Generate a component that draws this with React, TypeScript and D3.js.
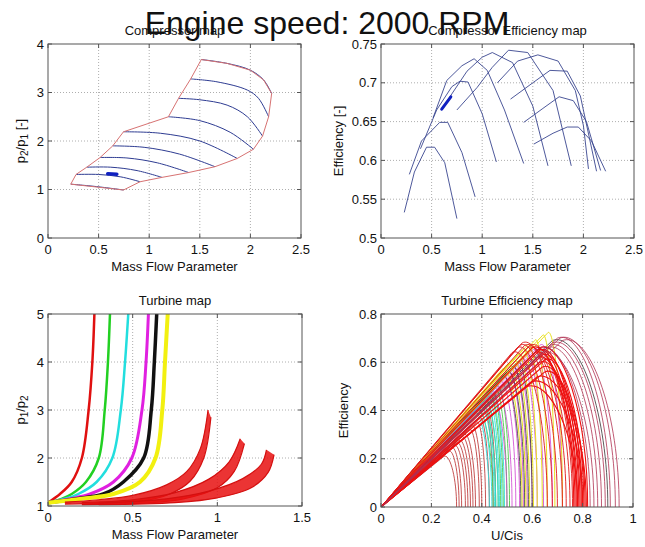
import React from "react";
import * as d3 from "d3";

const FONT = "'Liberation Sans', Arial, Helvetica, sans-serif";

// ---------------- Compressor map ----------------
const compBoundary: [number, number][] = [
  [1.515, 3.68], [1.77, 3.6], [2.0, 3.46], [2.13, 3.26], [2.21, 2.98], [2.18, 2.5], [2.12, 2.1],
  [2.03, 1.83], [1.87, 1.64], [1.65, 1.47], [1.39, 1.35], [1.126, 1.25], [0.91, 1.16], [0.746, 0.99],
  [0.225, 1.11], [0.277, 1.31], [0.383, 1.46], [0.515, 1.66], [0.64, 1.9], [0.746, 2.19],
  [1.19, 2.5], [1.29, 2.88], [1.41, 3.28], [1.515, 3.68],
];
const compSpeedLines: [number, number][][] = [
  [[0.225, 1.11], [0.48, 1.06], [0.746, 0.99]],
  [[0.277, 1.31], [0.5, 1.31], [0.72, 1.26], [0.91, 1.16]],
  [[0.383, 1.46], [0.62, 1.46], [0.88, 1.39], [1.126, 1.25]],
  [[0.515, 1.66], [0.78, 1.65], [1.08, 1.55], [1.39, 1.35]],
  [[0.64, 1.9], [0.95, 1.87], [1.3, 1.73], [1.65, 1.47]],
  [[0.746, 2.19], [1.11, 2.16], [1.5, 2.0], [1.87, 1.64]],
  [[1.19, 2.5], [1.5, 2.42], [1.8, 2.18], [2.03, 1.83]],
  [[1.29, 2.88], [1.5, 2.85], [1.77, 2.74], [1.97, 2.5], [2.12, 2.1]],
  [[1.41, 3.28], [1.67, 3.22], [1.97, 3.05], [2.08, 2.88], [2.18, 2.5]],
  [[1.515, 3.68], [1.77, 3.6], [2.0, 3.46], [2.13, 3.26], [2.21, 2.98]],
];
const compOpPoint: [number, number][] = [[0.59, 1.325], [0.68, 1.315]];

// ---------------- Compressor efficiency map ----------------
const compEffLines: [number, number][][] = [
  [[0.23, 0.533], [0.33, 0.585], [0.45, 0.617], [0.53, 0.617], [0.63, 0.597], [0.75, 0.525]],
  [[0.28, 0.582], [0.4, 0.625], [0.58, 0.649], [0.66, 0.649], [0.8, 0.61], [0.93, 0.553]],
  [[0.39, 0.615], [0.55, 0.665], [0.7, 0.695], [0.78, 0.702], [0.86, 0.701], [1.0, 0.66], [1.14, 0.598]],
  [[0.515, 0.655], [0.65, 0.703], [0.8, 0.722], [0.92, 0.731], [1.05, 0.716], [1.22, 0.665], [1.41, 0.596]],
  [[0.64, 0.674], [0.85, 0.715], [1.0, 0.733], [1.1, 0.739], [1.3, 0.726], [1.5, 0.67], [1.65, 0.593]],
  [[0.75, 0.665], [0.95, 0.694], [1.1, 0.72], [1.26, 0.742], [1.45, 0.739], [1.7, 0.69], [1.88, 0.593]],
  [[1.15, 0.7], [1.35, 0.728], [1.55, 0.736], [1.75, 0.728], [1.92, 0.69], [2.0, 0.645], [2.05, 0.589]],
  [[1.28, 0.679], [1.5, 0.7], [1.67, 0.716], [1.84, 0.715], [1.97, 0.683], [2.13, 0.586]],
  [[1.41, 0.649], [1.6, 0.667], [1.76, 0.682], [1.9, 0.677], [2.03, 0.65], [2.17, 0.587]],
  [[1.51, 0.621], [1.7, 0.635], [1.84, 0.643], [1.95, 0.643], [2.08, 0.625], [2.22, 0.586]],
];
const compEffOpPoint: [number, number][] = [[0.6, 0.666], [0.69, 0.682]];

// ---------------- Turbine map ----------------
const turbRed1: [number, number][] = [[0, 1.07], [0.071, 1.25], [0.14, 1.5], [0.2, 2.0], [0.24, 3.0], [0.262, 4.0], [0.274, 5.0]];
const turbGreen: [number, number][] = [[0, 1.07], [0.08, 1.15], [0.14, 1.25], [0.224, 1.5], [0.3, 2.0], [0.335, 3.0], [0.354, 4.0], [0.366, 5.0]];
const turbCyan: [number, number][] = [[0, 1.07], [0.1, 1.15], [0.179, 1.25], [0.287, 1.5], [0.38, 2.0], [0.43, 3.0], [0.455, 4.0], [0.474, 5.0]];
const turbMagenta: [number, number][] = [[0, 1.07], [0.13, 1.15], [0.248, 1.25], [0.386, 1.5], [0.495, 2.0], [0.555, 3.0], [0.579, 4.0], [0.593, 5.0]];
const turbBlack: [number, number][] = [[0, 1.07], [0.17, 1.15], [0.327, 1.25], [0.445, 1.5], [0.565, 2.0], [0.61, 3.0], [0.628, 4.0], [0.642, 5.0]];
const turbYellow: [number, number][] = [[0, 1.07], [0.2, 1.15], [0.386, 1.25], [0.543, 1.5], [0.635, 2.0], [0.675, 3.0], [0.691, 4.0], [0.707, 5.0]];
const turbRed2Upper: [number, number][] = [[0.1, 1.08], [0.3, 1.13], [0.5, 1.22], [0.7, 1.44], [0.82, 1.72], [0.9, 2.2], [0.945, 3.0]];
const turbRed2Lower: [number, number][] = [[0.1, 1.04], [0.35, 1.06], [0.55, 1.1], [0.72, 1.25], [0.84, 1.52], [0.92, 2.0], [0.962, 2.85]];
const turbRed3Upper: [number, number][] = [[0.2, 1.07], [0.5, 1.13], [0.75, 1.28], [0.95, 1.56], [1.07, 1.92], [1.135, 2.4]];
const turbRed3Lower: [number, number][] = [[0.2, 1.03], [0.55, 1.06], [0.8, 1.15], [1.0, 1.38], [1.1, 1.72], [1.16, 2.3]];
const turbRed4Upper: [number, number][] = [[0.3, 1.06], [0.7, 1.15], [0.95, 1.31], [1.15, 1.57], [1.26, 1.87], [1.29, 2.17]];
const turbRed4Lower: [number, number][] = [[0.3, 1.03], [0.75, 1.07], [1.0, 1.17], [1.2, 1.38], [1.3, 1.7], [1.335, 2.07]];

// ---------------- Turbine efficiency map: [kneeU/C, kneeEff, endU/C] ----------------
const effRed1: number[][] = [
  [0.25, 0.21, 0.3], [0.27, 0.23, 0.31], [0.28, 0.245, 0.32], [0.29, 0.255, 0.335], [0.3, 0.265, 0.345],
  [0.31, 0.275, 0.355], [0.32, 0.29, 0.365], [0.33, 0.3, 0.375], [0.35, 0.32, 0.39], [0.36, 0.335, 0.4],
  [0.38, 0.35, 0.415], [0.39, 0.37, 0.43], [0.41, 0.39, 0.445], [0.42, 0.4, 0.455],
];
const effGreen: number[][] = [
  [0.38, 0.4, 0.445], [0.4, 0.42, 0.455], [0.41, 0.44, 0.465], [0.43, 0.46, 0.475], [0.44, 0.47, 0.485],
  [0.45, 0.49, 0.5], [0.46, 0.5, 0.51],
];
const effCyan: number[][] = [
  [0.37, 0.39, 0.43], [0.38, 0.41, 0.44], [0.39, 0.42, 0.45], [0.4, 0.43, 0.455], [0.41, 0.45, 0.465],
  [0.42, 0.46, 0.47], [0.43, 0.47, 0.48], [0.44, 0.48, 0.49],
];
const effMagenta: number[][] = [
  [0.43, 0.48, 0.5], [0.45, 0.5, 0.52], [0.47, 0.52, 0.535], [0.48, 0.54, 0.55], [0.5, 0.56, 0.565],
  [0.52, 0.58, 0.58], [0.53, 0.59, 0.6], [0.55, 0.61, 0.62], [0.57, 0.63, 0.645], [0.6, 0.65, 0.68], [0.63, 0.67, 0.72],
];
const effBlack: number[][] = [
  [0.48, 0.54, 0.555], [0.5, 0.56, 0.57], [0.52, 0.58, 0.585], [0.54, 0.6, 0.6], [0.68, 0.69, 0.9],
];
const effYellow: number[][] = [
  [0.48, 0.57, 0.56], [0.5, 0.59, 0.575], [0.52, 0.61, 0.59], [0.54, 0.63, 0.605], [0.56, 0.65, 0.62],
  [0.58, 0.67, 0.64], [0.61, 0.69, 0.66], [0.64, 0.71, 0.69], [0.66, 0.72, 0.72],
];
const effRedA: number[][] = [
  [0.52, 0.64, 0.66], [0.54, 0.66, 0.68], [0.55, 0.67, 0.7], [0.56, 0.68, 0.72], [0.57, 0.67, 0.735],
  [0.58, 0.66, 0.75], [0.59, 0.67, 0.76],
];
const effRedB: number[][] = [
  [0.6, 0.66, 0.765], [0.61, 0.64, 0.77], [0.62, 0.65, 0.775], [0.62, 0.62, 0.78], [0.63, 0.65, 0.785],
  [0.63, 0.6, 0.79], [0.64, 0.63, 0.795], [0.64, 0.58, 0.8], [0.65, 0.61, 0.805], [0.65, 0.56, 0.81],
  [0.62, 0.54, 0.815], [0.63, 0.66, 0.82], [0.58, 0.5, 0.78], [0.6, 0.52, 0.8],
];
const effRedC: number[][] = [
  [0.63, 0.66, 0.83], [0.64, 0.64, 0.845], [0.66, 0.66, 0.86], [0.67, 0.67, 0.875], [0.68, 0.68, 0.89],
  [0.7, 0.7, 0.91], [0.71, 0.7, 0.93], [0.72, 0.69, 0.945],
];

// ---------------- ticks ----------------
const compXTicks = [0, 0.5, 1, 1.5, 2, 2.5];
const compYTicks = [0, 1, 2, 3, 4];
const compEffYTicks = [0.5, 0.55, 0.6, 0.65, 0.7, 0.75];
const turbXTicks = [0, 0.5, 1, 1.5];
const turbYTicks = [1, 2, 3, 4, 5];
const turbEffXTicks = [0, 0.2, 0.4, 0.6, 0.8, 1];
const turbEffYTicks = [0, 0.2, 0.4, 0.6, 0.8];

type Box = { l: number; r: number; t: number; b: number };

function Axes(props: {
  id: string;
  box: Box;
  xs: d3.ScaleLinear<number, number>;
  ys: d3.ScaleLinear<number, number>;
  xTicks: number[];
  yTicks: number[];
  title: string;
  xlabel: string;
  ylabel: React.ReactNode;
  ylabelX: number;
  children?: React.ReactNode;
}) {
  const { id, box, xs, ys, xTicks, yTicks, title, xlabel, ylabel, ylabelX, children } = props;
  const w = box.r - box.l;
  const h = box.b - box.t;
  const frame = "#555";
  const tl = 4;
  return (
    <g>
      <defs>
        <clipPath id={id}>
          <rect x={box.l} y={box.t} width={w} height={h} />
        </clipPath>
      </defs>
      <rect x={box.l} y={box.t} width={w} height={h} fill="#fff" />
      {xTicks.slice(1, -1).map((v) => (
        <line key={"gx" + v} x1={xs(v)} x2={xs(v)} y1={box.t} y2={box.b} stroke="#999" strokeWidth={0.8} strokeDasharray="1,2" />
      ))}
      {yTicks.slice(1, -1).map((v) => (
        <line key={"gy" + v} x1={box.l} x2={box.r} y1={ys(v)} y2={ys(v)} stroke="#999" strokeWidth={0.8} strokeDasharray="1,2" />
      ))}
      <g clipPath={`url(#${id})`}>{children}</g>
      <rect x={box.l} y={box.t} width={w} height={h} fill="none" stroke={frame} strokeWidth={1} />
      {xTicks.map((v) => (
        <g key={"tx" + v}>
          <line x1={xs(v)} x2={xs(v)} y1={box.b} y2={box.b - tl} stroke={frame} />
          <line x1={xs(v)} x2={xs(v)} y1={box.t} y2={box.t + tl} stroke={frame} />
          <text x={xs(v)} y={box.b + 16} textAnchor="middle" fontSize={13} fontFamily={FONT} fill="#111">
            {String(v)}
          </text>
        </g>
      ))}
      {yTicks.map((v) => (
        <g key={"ty" + v}>
          <line x1={box.l} x2={box.l + tl} y1={ys(v)} y2={ys(v)} stroke={frame} />
          <line x1={box.r} x2={box.r - tl} y1={ys(v)} y2={ys(v)} stroke={frame} />
          <text x={box.l - 4} y={ys(v)} dy="0.36em" textAnchor="end" fontSize={13} fontFamily={FONT} fill="#111">
            {String(v)}
          </text>
        </g>
      ))}
      <text x={(box.l + box.r) / 2} y={box.t - 9} textAnchor="middle" fontSize={13} fontFamily={FONT} fill="#111">
        {title}
      </text>
      <text x={(box.l + box.r) / 2} y={box.b + 33} textAnchor="middle" fontSize={13} fontFamily={FONT} fill="#111">
        {xlabel}
      </text>
      <text
        transform={`translate(${ylabelX},${(box.t + box.b) / 2}) rotate(-90)`}
        textAnchor="middle"
        fontSize={13}
        fontFamily={FONT}
        fill="#111"
      >
        {ylabel}
      </text>
    </g>
  );
}

export default function App() {
  const b1: Box = { l: 48, r: 301, t: 44, b: 238 };
  const b2: Box = { l: 381, r: 634, t: 44, b: 238 };
  const b3: Box = { l: 48, r: 302, t: 314, b: 506 };
  const b4: Box = { l: 381, r: 633, t: 314, b: 507 };

  const x1 = d3.scaleLinear().domain([0, 2.5]).range([b1.l, b1.r]);
  const y1 = d3.scaleLinear().domain([0, 4]).range([b1.b, b1.t]);
  const x2 = d3.scaleLinear().domain([0, 2.5]).range([b2.l, b2.r]);
  const y2 = d3.scaleLinear().domain([0.5, 0.75]).range([b2.b, b2.t]);
  const x3 = d3.scaleLinear().domain([0, 1.5]).range([b3.l, b3.r]);
  const y3 = d3.scaleLinear().domain([1, 5]).range([b3.b, b3.t]);
  const x4 = d3.scaleLinear().domain([0, 1]).range([b4.l, b4.r]);
  const y4 = d3.scaleLinear().domain([0, 0.8]).range([b4.b, b4.t]);

  const lin1 = d3.line<[number, number]>().x((d) => x1(d[0])).y((d) => y1(d[1]));
  const smooth1 = d3.line<[number, number]>().x((d) => x1(d[0])).y((d) => y1(d[1])).curve(d3.curveCatmullRom.alpha(0.5));
  const lin2 = d3.line<[number, number]>().x((d) => x2(d[0])).y((d) => y2(d[1]));
  const smooth3 = d3.line<[number, number]>().x((d) => x3(d[0])).y((d) => y3(d[1])).curve(d3.curveCatmullRom.alpha(0.5));

  const bandPath = (upper: [number, number][], lower: [number, number][]) =>
    (smooth3(upper) || "") + (smooth3(lower.slice().reverse()) || "").replace(/^M/, "L") + "Z";

  const effPath = (c: number[]) => {
    const [kx, ky, ex] = c;
    const p = d3.path();
    p.moveTo(x4(0), y4(0));
    p.lineTo(x4(kx), y4(ky));
    p.bezierCurveTo(x4(kx + (ex - kx) * 0.45), y4(ky * 1.06), x4(ex), y4(ky * 0.6), x4(ex), y4(0));
    return p.toString();
  };

  const turbLines = [
    { pts: turbRed1, color: "#e01010", w: 2.5 },
    { pts: turbGreen, color: "#22d022", w: 2.5 },
    { pts: turbCyan, color: "#22dede", w: 2.5 },
    { pts: turbMagenta, color: "#e020e0", w: 3 },
    { pts: turbBlack, color: "#111111", w: 3.5 },
    { pts: turbYellow, color: "#f2f010", w: 4 },
  ];
  const turbBands = [
    { u: turbRed2Upper, l: turbRed2Lower },
    { u: turbRed3Upper, l: turbRed3Lower },
    { u: turbRed4Upper, l: turbRed4Lower },
  ];

  const effGroups = [
    { data: effRed1, color: "#b82828", w: 0.8 },
    { data: effGreen, color: "#48cc48", w: 0.9 },
    { data: effCyan, color: "#30dada", w: 0.9 },
    { data: effMagenta, color: "#d040d0", w: 0.8 },
    { data: effBlack, color: "#333333", w: 0.8 },
    { data: effYellow, color: "#e8e020", w: 1 },
    { data: effRedA, color: "#e01818", w: 0.9 },
    { data: effRedB, color: "#ee1010", w: 1.1 },
    { data: effRedC, color: "#b03050", w: 0.8 },
  ];

  const sub = (t: string) => (
    <tspan fontSize={10} dy={3}>
      {t}
    </tspan>
  );

  return (
    <svg width={645} height={547} style={{ position: "absolute", left: 0, top: 0, background: "#fff" }}>
      <rect x={0} y={0} width={645} height={547} fill="#fff" />

      <Axes
        id="c1"
        box={b1}
        xs={x1}
        ys={y1}
        xTicks={compXTicks}
        yTicks={compYTicks}
        title="Compressor map"
        xlabel="Mass Flow Parameter"
        ylabelX={25}
        ylabel={
          <>
            <tspan>p</tspan>
            {sub("2")}
            <tspan dy={-3}>/p</tspan>
            {sub("1")}
            <tspan dy={-3}> [-]</tspan>
          </>
        }
      >
        {compSpeedLines.map((l, i) => (
          <path key={i} d={smooth1(l) || ""} fill="none" stroke="#2e3c92" strokeWidth={1} />
        ))}
        <path d={lin1(compBoundary) || ""} fill="none" stroke="#d77272" strokeWidth={1} />
        <path d={lin1(compOpPoint) || ""} fill="none" stroke="#1020c0" strokeWidth={3.5} strokeLinecap="round" />
      </Axes>

      <Axes
        id="c2"
        box={b2}
        xs={x2}
        ys={y2}
        xTicks={compXTicks}
        yTicks={compEffYTicks}
        title="Compressor Efficiency map"
        xlabel="Mass Flow Parameter"
        ylabelX={343}
        ylabel="Efficiency [-]"
      >
        {compEffLines.map((l, i) => (
          <path key={i} d={lin2(l) || ""} fill="none" stroke="#3a4690" strokeWidth={0.9} />
        ))}
        <path d={lin2(compEffOpPoint) || ""} fill="none" stroke="#1020c0" strokeWidth={3} strokeLinecap="round" />
      </Axes>

      <Axes
        id="c3"
        box={b3}
        xs={x3}
        ys={y3}
        xTicks={turbXTicks}
        yTicks={turbYTicks}
        title="Turbine map"
        xlabel="Mass Flow Parameter"
        ylabelX={25}
        ylabel={
          <>
            <tspan>p</tspan>
            {sub("1")}
            <tspan dy={-3}>/p</tspan>
            {sub("2")}
          </>
        }
      >
        {turbLines.map((t, i) => (
          <path key={i} d={smooth3(t.pts) || ""} fill="none" stroke={t.color} strokeWidth={t.w} />
        ))}
        {turbBands.map((b, i) => (
          <g key={i}>
            <path d={bandPath(b.u, b.l)} fill="#e81010" fillOpacity={0.85} stroke="none" />
            <path d={smooth3(b.u) || ""} fill="none" stroke="#d41010" strokeWidth={1.2} />
            <path d={smooth3(b.l) || ""} fill="none" stroke="#d41010" strokeWidth={1.2} />
          </g>
        ))}
      </Axes>

      <Axes
        id="c4"
        box={b4}
        xs={x4}
        ys={y4}
        xTicks={turbEffXTicks}
        yTicks={turbEffYTicks}
        title="Turbine Efficiency map"
        xlabel="U/Cis"
        ylabelX={348}
        ylabel="Efficiency"
      >
        {effGroups.map((g, gi) => (
          <g key={gi}>
            {g.data.map((c, i) => (
              <path key={i} d={effPath(c)} fill="none" stroke={g.color} strokeWidth={g.w} />
            ))}
          </g>
        ))}
      </Axes>

      <text x={327} y={34} textAnchor="middle" fontSize={32} fontFamily={FONT} fill="#111">
        Engine speed: 2000 RPM
      </text>
    </svg>
  );
}
